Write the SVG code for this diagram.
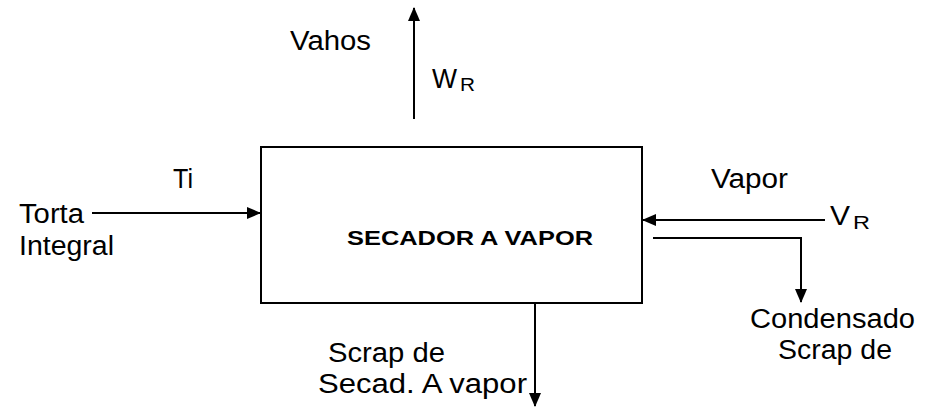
<svg xmlns="http://www.w3.org/2000/svg" width="929" height="407" viewBox="0 0 929 407">
<style>
.t{font-family:"Liberation Sans",Arial,sans-serif;font-size:27px;fill:#000}
.s{font-family:"Liberation Sans",Arial,sans-serif;font-size:19px;fill:#000}
.b{font-family:"Liberation Sans",Arial,sans-serif;font-size:20px;font-weight:bold;fill:#000}
.ln{stroke:#000;stroke-width:2;fill:none}
</style>
<defs>
<marker id="ah" markerUnits="userSpaceOnUse" markerWidth="14" markerHeight="12" refX="13" refY="6" orient="auto">
<path d="M0,0 L14,6 L0,12 z" fill="#000"/>
</marker>
</defs>
<rect width="929" height="407" fill="#fff"/>
<g id="secador">
<rect x="261" y="147" width="381" height="156" class="ln"/>
<text class="b" x="347" y="245" textLength="246" lengthAdjust="spacingAndGlyphs">SECADOR A VAPOR</text>
</g>
<g id="connectors">
<line x1="414" y1="119" x2="414" y2="8" class="ln" marker-end="url(#ah)"/>
<line x1="92" y1="213" x2="260" y2="213" class="ln" marker-end="url(#ah)"/>
<line x1="825" y1="220" x2="643" y2="220" class="ln" marker-end="url(#ah)"/>
<polyline points="653,238 801,238 801,302" class="ln" marker-end="url(#ah)"/>
<line x1="535" y1="303" x2="535" y2="406" class="ln" marker-end="url(#ah)"/>
</g>
<g id="vahos">
<text class="t" x="290" y="50" textLength="81" lengthAdjust="spacingAndGlyphs">Vahos</text>
<text class="t" x="432" y="88" textLength="25" lengthAdjust="spacingAndGlyphs">W</text>
<text class="s" x="460" y="91" textLength="15" lengthAdjust="spacingAndGlyphs">R</text>
</g>
<g id="torta">
<text class="t" x="173" y="188" textLength="20" lengthAdjust="spacingAndGlyphs">Ti</text>
<text class="t" x="19" y="223" textLength="65" lengthAdjust="spacingAndGlyphs">Torta</text>
<text class="t" x="19" y="255" textLength="95" lengthAdjust="spacingAndGlyphs">Integral</text>
</g>
<g id="vapor">
<text class="t" x="711" y="188" textLength="77" lengthAdjust="spacingAndGlyphs">Vapor</text>
<text class="t" x="830" y="225" textLength="20" lengthAdjust="spacingAndGlyphs">V</text>
<text class="s" x="853" y="229" textLength="17" lengthAdjust="spacingAndGlyphs">R</text>
</g>
<g id="condensado">
<text class="t" x="750" y="328" textLength="165" lengthAdjust="spacingAndGlyphs">Condensado</text>
<text class="t" x="778" y="359" textLength="114" lengthAdjust="spacingAndGlyphs">Scrap de</text>
</g>
<g id="scrap">
<text class="t" x="328" y="362" textLength="117" lengthAdjust="spacingAndGlyphs">Scrap de</text>
<text class="t" x="318" y="393" textLength="209" lengthAdjust="spacingAndGlyphs">Secad. A vapor</text>
</g>
</svg>
